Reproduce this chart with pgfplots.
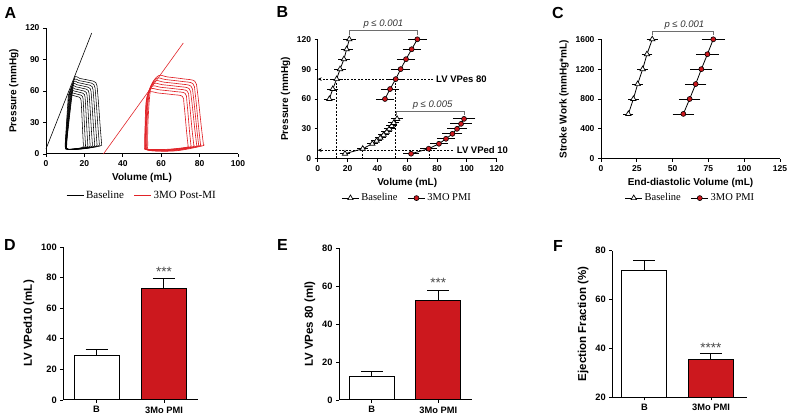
\documentclass[border=0pt]{standalone}
\usepackage{fontspec}
\setmainfont{Liberation Sans}
\newfontfamily\seriffont{Liberation Serif}
\usepackage{pgfplots}
\pgfplotsset{compat=1.18}
\usetikzlibrary{arrows.meta}
\definecolor{pmired}{RGB}{204,24,30}
\definecolor{loopred}{RGB}{225,35,40}
\definecolor{brk}{RGB}{110,110,110}
\tikzset{dsh/.style={black, line width=0.6pt, dash pattern=on 2pt off 1.5pt}}
\pgfplotsset{
  panel/.style={
    scale only axis, anchor=south west,
    axis x line*=bottom, axis y line*=left,
    axis line style={line width=1pt, black},
    tick align=outside, major tick length=3pt,
    tick style={black, line width=0.9pt},
    minor tick num=0,
    tick label style={font=\bfseries\fontsize{8.5}{10}\selectfont},
    label style={font=\bfseries\fontsize{10}{12}\selectfont},
    /pgf/number format/assume math mode=true,
    /pgf/number format/1000 sep={},
    scaled ticks=false,
    clip=false,
  },
  bpanel/.style={
    panel, clip=true,
    tick label style={font=\bfseries\fontsize{9.3}{11}\selectfont},
    label style={font=\bfseries\fontsize{11.5}{13}\selectfont},
    xtick={0,1}, xticklabels={B,3Mo PMI},
  },
  lg/.style={legend style={at={(0.5,-0.33)}, anchor=center, draw=none, fill=none,
      font=\seriffont\fontsize{11}{12}\selectfont, legend columns=2,
      /tikz/every even column/.append style={column sep=8pt}}},
  bl/.style={forget plot, black, line width=0.55pt, smooth, tension=0.55},
  rl/.style={forget plot, loopred, line width=0.65pt, smooth, tension=0.55},
  tri/.style={black, line width=0.8pt, mark=triangle*, mark size=3.1pt, mark options={fill=white, draw=black, line width=0.7pt, solid}},
  cir/.style={black, line width=0.8pt, mark=*, mark size=2.5pt, mark options={fill=pmired, draw=black, line width=0.6pt, solid}},
  xerr/.style={forget plot, draw=none, mark=none, error bars/.cd, x dir=both, x explicit, error bar style={line width=0.8pt, black, solid}, error mark options={mark size=1.7pt, line width=0.8pt, black}},
  berr/.style={error bars/.cd, y dir=plus, y explicit, error bar style={line width=1pt, black}, error mark options={rotate=90, mark size=11pt, line width=1pt, black}},
  stars/.style={},
}
\tikzset{starnode/.style={anchor=base, inner sep=0pt, font=\fontsize{13.5}{14}\selectfont, text=black!72}}
\begin{document}
\begin{tikzpicture}[x=1pt,y=1pt]
\useasboundingbox (0,0) rectangle (787,417);

% ---------------- A ----------------
\begin{axis}[panel, lg, at={(46pt,263pt)}, width=192pt, height=126pt,
  xmin=0, xmax=100, ymin=0, ymax=120, xtick={0,20,...,100}, ytick={0,30,...,120},
  xlabel={Volume (mL)}, ylabel={Pressure (mmHg)}]
\addlegendimage{black, line width=0.7pt}
\addlegendentry{Baseline}
\addlegendimage{loopred, line width=0.7pt}
\addlegendentry{3MO Post-MI}
\addplot[forget plot, black, line width=0.6pt] coordinates {(0,4.8) (23.8,115.2)};
\addplot[forget plot, loopred, line width=0.6pt] coordinates {(29.9,0) (71.5,105.7)};
\addplot[bl] coordinates {(29,9) (28.25,25.6) (26.9,58.4) (26,67.9) (22.7,70.1) (17.75,71.9) (15,73) (13.74,58.4) (11.85,29.2) (10.8,8.8) (11.8,4.5) (19.9,5) (28,7.5) (29,9)};
\addplot[bl] coordinates {(27.8,8.8) (27.1,24.9) (25.84,56.8) (25,66) (21.88,68.2) (17.2,69.9) (14.6,71) (13.43,56.8) (11.68,28.4) (10.7,8.5) (11.7,4.5) (19.25,5) (26.8,7.3) (27.8,8.8)};
\addplot[bl] coordinates {(26.6,8.6) (25.95,24.2) (24.78,55.2) (24,64.2) (21.06,66.2) (16.65,68) (14.2,69) (13.12,55.2) (11.5,27.6) (10.6,8.3) (11.6,4.5) (18.6,5) (25.6,7.1) (26.6,8.6)};
\addplot[bl] coordinates {(25.4,8.4) (24.8,23.5) (23.72,53.6) (23,62.3) (20.24,64.3) (16.1,66) (13.8,67) (12.81,53.6) (11.33,26.8) (10.5,8) (11.5,4.5) (17.95,5) (24.4,6.9) (25.4,8.4)};
\addplot[bl] coordinates {(24.2,8.2) (23.65,22.8) (22.66,52) (22,60.5) (19.42,62.4) (15.55,64) (13.4,65) (12.5,52) (11.15,26) (10.4,7.8) (11.4,4.5) (17.3,5) (23.2,6.7) (24.2,8.2)};
\addplot[bl] coordinates {(23,8) (22.5,22.1) (21.6,50.4) (21,58.6) (18.6,60.5) (15,62) (13,63) (12.19,50.4) (10.98,25.2) (10.3,7.6) (11.3,4.5) (16.65,5) (22,6.5) (23,8)};
\addplot[bl] coordinates {(21.8,7.8) (21.35,21.4) (20.54,48.8) (20,56.7) (17.78,58.6) (14.45,60.1) (12.6,61) (11.88,48.8) (10.8,24.4) (10.2,7.3) (11.2,4.5) (16,5) (20.8,6.3) (21.8,7.8)};
\addplot[bl] coordinates {(20.6,7.6) (20.2,20.7) (19.48,47.2) (19,54.9) (16.96,56.6) (13.9,58.1) (12.2,59) (11.57,47.2) (10.63,23.6) (10.1,7.1) (11.1,4.5) (15.35,5) (19.6,6.1) (20.6,7.6)};
\addplot[bl] coordinates {(19.5,7.4) (19.13,20) (18.45,45.6) (18,53) (16.14,54.7) (13.35,56.1) (11.8,57) (11.26,45.6) (10.45,22.8) (10,6.8) (11,4.5) (14.75,5) (18.5,5.9) (19.5,7.4)};
\addplot[rl] coordinates {(82,9) (80.88,26.1) (78.85,59.6) (77.5,69.3) (71.8,71.5) (63.25,73.4) (58.5,74.5) (54.65,63.3) (53.2,33.5) (53,8.9) (54,3.5) (67.5,3) (81,7.5) (82,9)};
\addplot[rl] coordinates {(80.5,8.8) (79.5,25.2) (77.7,57.6) (76.5,67) (70.8,69.1) (62.25,70.9) (57.5,72) (54,61.2) (52.7,32.4) (52.5,8.6) (53.5,3.5) (66.5,3.2) (79.5,7.3) (80.5,8.8)};
\addplot[rl] coordinates {(79.5,8.6) (78.5,24.3) (76.7,55.6) (75.5,64.6) (69.9,66.7) (61.5,68.4) (56.8,69.5) (53.58,59.1) (52.4,31.3) (52.2,8.3) (53.2,3.8) (65.85,3.5) (78.5,7.1) (79.5,8.6)};
\addplot[rl] coordinates {(78.5,8.4) (77.5,23.5) (75.7,53.6) (74.5,62.3) (68.95,64.3) (60.6,66) (56,67) (53.2,57) (52.2,30.2) (52,8) (53,4) (65.25,3.8) (77.5,6.9) (78.5,8.4)};
\addplot[rl] coordinates {(77,8.2) (76.1,22.6) (74.55,51.6) (73.5,60) (68.04,61.9) (59.85,63.5) (55.3,64.5) (52.85,54.8) (52,29) (51.8,7.7) (52.8,4.2) (64.4,4) (76,6.7) (77,8.2)};
\addplot[rl] coordinates {(75.5,8) (74.75,21.7) (73.4,49.6) (72.5,57.7) (67.13,59.5) (59.08,61.1) (54.6,62) (52.5,52.7) (51.8,27.9) (51.6,7.4) (52.6,4.4) (63.55,4.2) (74.5,6.5) (75.5,8)};
\addplot[rl] coordinates {(74,7.8) (73.25,20.7) (71.9,47.2) (71,54.9) (65.9,56.6) (58.25,58.1) (54,59) (52.18,50.2) (51.6,26.6) (51.4,7.1) (52.4,4.6) (62.7,4.4) (73,6.3) (74,7.8)};
\end{axis}

% ---------------- B ----------------
\begin{axis}[panel, lg, at={(317.7pt,258.3pt)}, width=179pt, height=119.4pt,
  xmin=0, xmax=120, ymin=0, ymax=120, xtick={0,20,...,120}, ytick={0,30,...,120},
  xlabel={Volume (mL)}, ylabel={Pressure (mmHg)},
  legend style={font=\seriffont\fontsize{10.5}{12}\selectfont}]
\addlegendimage{tri}
\addlegendentry{Baseline}
\addlegendimage{cir}
\addlegendentry{3MO PMI}
\draw[dsh, -{Stealth[length=4pt,width=3.5pt]}] (axis cs:77.3,80) -- (axis cs:0,80);
\draw[dsh] (axis cs:12.7,80) -- (axis cs:12.7,0);
\draw[dsh] (axis cs:52.3,80) -- (axis cs:52.3,0);
\draw[dsh, -{Stealth[length=4pt,width=3.5pt]}] (axis cs:90.7,8.5) -- (axis cs:0,8.5);
\draw[dsh] (axis cs:30.2,8.5) -- (axis cs:30.2,0);
\draw[dsh] (axis cs:74.6,8.5) -- (axis cs:74.6,0);
\draw[brk, line width=0.7pt] (axis cs:21.2,124.3) -- (axis cs:21.2,129.3) -- (axis cs:66.8,129.3) -- (axis cs:66.8,124.3);
\draw[brk, line width=0.7pt] (axis cs:52.5,43.9) -- (axis cs:52.5,47.2) -- (axis cs:98.1,47.2) -- (axis cs:98.1,43.9);
\node[font=\itshape\fontsize{9.5}{10}\selectfont, text=black!80] at (axis cs:44,135.5) {p ≤ 0.001};
\node[font=\itshape\fontsize{9.5}{10}\selectfont, text=black!80] at (axis cs:77,53.5) {p ≤ 0.005};
\node[anchor=west, inner sep=0pt, font=\bfseries\fontsize{9.5}{10}\selectfont] at (axis cs:79.3,80) {LV VPes 80};
\node[anchor=west, inner sep=0pt, font=\bfseries\fontsize{9.5}{10}\selectfont] at (axis cs:93.2,8.5) {LV VPed 10};
% error bars (drawn first, behind the markers)
\addplot[xerr] coordinates {(7.8,60) +- (2.7,0) (10.1,70) +- (2.7,0) (12.7,80) +- (2.8,0) (15.0,90) +- (2.8,0) (17.6,100) +- (2.8,0) (19.4,110) +- (2.9,0) (21.2,120) +- (3,0)};
\addplot[xerr] coordinates {(45.1,60) +- (5,0) (48.5,70) +- (5,0) (52.3,80) +- (5,0) (55.6,90) +- (5,0) (59.2,100) +- (5,0) (63.0,110) +- (5,0) (66.8,120) +- (5,0)};
\addplot[xerr] coordinates {(18.3,5) +- (2.5,0) (30.2,10) +- (2.5,0) (36.6,15) +- (2.5,0) (39.5,18) +- (2.5,0) (42,21) +- (2.5,0) (44.2,24) +- (2.5,0) (46.3,27) +- (2.5,0) (48,30) +- (2.5,0) (49.6,33) +- (2.5,0) (51,36) +- (2.5,0) (53.2,40) +- (2.7,0)};
\addplot[xerr] coordinates {(62.6,5) +- (4,0) (74.4,10) +- (4.5,0) (81.3,15) +- (5,0) (86.0,20) +- (5,0) (90.3,25) +- (5.5,0) (93.4,30) +- (5.5,0) (96.1,35) +- (6,0) (98.1,40) +- (6.4,0)};
% means
\addplot[forget plot, tri] coordinates {(7.8,60) (10.1,70) (12.7,80) (15.0,90) (17.6,100) (19.4,110) (21.2,120)};
\addplot[forget plot, cir] coordinates {(45.1,60) (48.5,70) (52.3,80) (55.6,90) (59.2,100) (63.0,110) (66.8,120)};
\addplot[forget plot, tri] coordinates {(18.3,5) (30.2,10) (36.6,15) (39.5,18) (42,21) (44.2,24) (46.3,27) (48,30) (49.6,33) (51,36) (53.2,40)};
\addplot[forget plot, cir] coordinates {(62.6,5) (74.4,10) (81.3,15) (86.0,20) (90.3,25) (93.4,30) (96.1,35) (98.1,40)};
\end{axis}

% ---------------- C ----------------
\begin{axis}[panel, lg, at={(601pt,258.3pt)}, width=179pt, height=119.4pt,
  xmin=0, xmax=125, ymin=0, ymax=1600, xtick={0,25,...,125}, ytick={0,400,...,1600},
  xlabel={End-diastolic Volume (mL)}, ylabel={Stroke Work (mmHg*mL)},
  legend style={font=\seriffont\fontsize{10.5}{12}\selectfont}]
\addlegendimage{tri}
\addlegendentry{Baseline}
\addlegendimage{cir}
\addlegendentry{3MO PMI}
\draw[brk, line width=0.7pt] (axis cs:36,1660) -- (axis cs:36,1703) -- (axis cs:78.4,1703) -- (axis cs:78.4,1660);
\node[font=\itshape\fontsize{9.5}{10}\selectfont, text=black!80] at (axis cs:58.2,1795) {p ≤ 0.001};
\addplot[xerr] coordinates {(19.1,600) +- (2.4,0) (22.6,800) +- (2.5,0) (25.6,1000) +- (2.5,0) (29.1,1200) +- (2.6,0) (32.1,1400) +- (2.6,0) (35.8,1600) +- (2.8,0)};
\addplot[xerr] coordinates {(57.5,600) +- (6.3,0) (61.9,800) +- (6.3,0) (66.1,1000) +- (6.3,0) (70.1,1200) +- (6.5,0) (74.3,1400) +- (6.8,0) (78.4,1600) +- (7,0)};
\addplot[forget plot, tri] coordinates {(19.1,600) (22.6,800) (25.6,1000) (29.1,1200) (32.1,1400) (35.8,1600)};
\addplot[forget plot, cir] coordinates {(57.5,600) (61.9,800) (66.1,1000) (70.1,1200) (74.3,1400) (78.4,1600)};
\end{axis}

% ---------------- D ----------------
\begin{axis}[bpanel, at={(63.3pt,17pt)}, width=134.7pt, height=153pt,
  xmin=-0.492, xmax=1.504, ymin=0, ymax=100, ytick={0,20,...,100},
  ylabel={LV VPed10 (mL)}]
\addplot[ybar, bar width=45pt, bar shift=0pt, fill=white, draw=black, line width=1pt, berr] coordinates {(0,29.0) +- (0,4.2)};
\addplot[ybar, bar width=45pt, bar shift=0pt, fill=pmired, draw=black, line width=1pt, berr] coordinates {(1,73.1) +- (0,6.4)};
\node[starnode] at (axis cs:1,80.9) {***};
\end{axis}

% ---------------- E ----------------
\begin{axis}[bpanel, at={(339pt,17pt)}, width=132.7pt, height=151.7pt,
  xmin=-0.493, xmax=1.502, ymin=0, ymax=80, ytick={0,20,...,80},
  ylabel={LV VPes 80 (ml)}]
\addplot[ybar, bar width=45pt, bar shift=0pt, fill=white, draw=black, line width=1pt, berr] coordinates {(0,12.3) +- (0,2.8)};
\addplot[ybar, bar width=45pt, bar shift=0pt, fill=pmired, draw=black, line width=1pt, berr] coordinates {(1,52.4) +- (0,5.1)};
\node[starnode] at (axis cs:1,59.3) {***};
\end{axis}

% ---------------- F ----------------
\begin{axis}[bpanel, at={(612.3pt,19.7pt)}, width=134.4pt, height=146.6pt,
  xmin=-0.484, xmax=1.537, ymin=20, ymax=80, ytick={20,40,60,80},
  ylabel={Ejection Fraction (\%)}]
\addplot[ybar, bar width=45pt, bar shift=0pt, fill=white, draw=black, line width=1pt, berr] coordinates {(0,71.8) +- (0,4.0)};
\addplot[ybar, bar width=45pt, bar shift=0pt, fill=pmired, draw=black, line width=1pt, berr] coordinates {(1,35.5) +- (0,2.5)};
\node[starnode] at (axis cs:1,38.3) {****};
\end{axis}

% panel letters
\node[font=\bfseries\fontsize{16}{16}\selectfont] at (10.5pt,404pt) {A};
\node[font=\bfseries\fontsize{16}{16}\selectfont] at (282.5pt,404.5pt) {B};
\node[font=\bfseries\fontsize{16}{16}\selectfont] at (558pt,404pt) {C};
\node[font=\bfseries\fontsize{16}{16}\selectfont] at (10pt,172pt) {D};
\node[font=\bfseries\fontsize{16}{16}\selectfont] at (282.5pt,172pt) {E};
\node[font=\bfseries\fontsize{16}{16}\selectfont] at (558pt,170.5pt) {F};
\end{tikzpicture}
\end{document}
